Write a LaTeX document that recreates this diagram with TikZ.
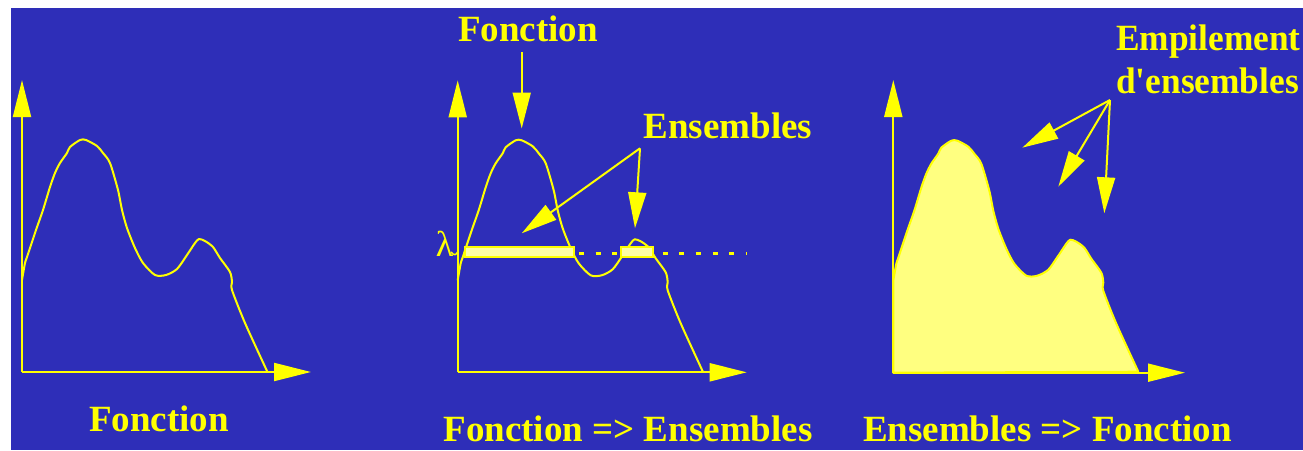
\documentclass[tikz,border=0pt]{standalone}
\usepackage{fontspec}
\setmainfont{Liberation Serif}
\usetikzlibrary{arrows.meta}
\definecolor{bg}{RGB}{46,46,184}
\definecolor{yel}{RGB}{255,255,0}
\definecolor{fillyel}{RGB}{255,255,128}
\definecolor{baryel}{RGB}{255,255,165}
\begin{document}
\begin{tikzpicture}[x=1pt,y=-1pt,
  axisarrow/.style={draw=yel, line width=2pt, -{Triangle[length=37pt,width=18pt]}},
  pointer/.style={draw=yel, line width=2pt, -{Triangle[length=36pt,width=18pt]}},
  fline/.style={draw=yel, line width=2pt, line join=round},
  fpath/.style={insert path={plot[smooth,tension=0.45] coordinates {(0,-92) (3,-109) (5,-115) (14,-142) (21,-162) (28,-185) (33,-199) (38,-209) (45,-219) (48,-225) (58,-232) (64,-232) (75,-226) (81,-219) (88,-209) (96,-182) (100,-162) (105,-144) (113,-124) (121,-109) (133,-97) (144,-97) (155,-103) (165,-117) (173,-129) (177,-133) (183,-131) (191,-125) (198,-114) (208,-100) (210,-90) (210,-82) (223,-49) (245,-1)}}},
  lbl/.style={text=yel, font=\fontsize{37}{40}\selectfont\bfseries, inner sep=0pt},
  setbar/.style={fill=baryel, draw=yel, line width=2pt}
]
\fill[white] (0,0) rectangle (1303,450);
\useasboundingbox (0,0) rectangle (1303,450);
\fill[bg] (11,8) rectangle (1303,450);

% ---------- Panel 1 ----------
\begin{scope}[shift={(22,372)}]
  \coordinate (o1) at (0,0);
  \coordinate (y1) at (0,-292);
  \coordinate (x1) at (289,0);
  \draw[fline, fpath];
  \draw[axisarrow] (o1) -- (y1);
  \draw[axisarrow] (o1) -- (x1);
\end{scope}
\node[lbl, anchor=base] (t1) at (159,431.7) {Fonction};

% ---------- Panel 2 ----------
\begin{scope}[shift={(457.7,372.3)}]
  \coordinate (o2) at (0,0);
  \coordinate (y2) at (0,-292);
  \coordinate (x2) at (289,0);
  \draw[fline, fpath];
\end{scope}
\draw[yel, line width=2.5pt, dash pattern=on 5pt off 11.7pt] (579,253.3) -- (746.7,253.3);
\draw[setbar] (465,246.7) rectangle (574,256.7);
\draw[setbar] (621,246.7) rectangle (653.3,256.7);
\draw[axisarrow] (o2) -- (y2);
\draw[axisarrow] (o2) -- (x2);
\node[text=yel, font=\fontsize{36}{36}\selectfont, inner sep=0pt, anchor=base] (lam) at (444.5,256) {λ};
\draw[yel, line width=1.5pt] (451,252) .. controls (454,256) and (456,255) .. (457.7,252);

\node[lbl, anchor=base] (t2top) at (528,41.7) {Fonction};
\coordinate (fa) at (521.7,52);
\coordinate (peak) at (521.7,128.5);
\draw[pointer] (fa) -- (peak);

\node[lbl, anchor=base] (t2ens) at (728,138.3) {Ensembles};
\coordinate (ens) at (640,148.3);
\coordinate (e1) at (521.7,233.3);
\coordinate (e2) at (635,228.3);
\draw[pointer] (ens) -- (e1);
\draw[pointer] (ens) -- (e2);

\node[lbl, anchor=base] (t2) at (628,441.7) {Fonction => Ensembles};

% ---------- Panel 3 ----------
\begin{scope}[shift={(893.3,372.7)}]
  \coordinate (o3) at (0,0);
  \coordinate (y3) at (0,-292.7);
  \coordinate (x3) at (291.7,0);
  \filldraw[fill=fillyel, draw=yel, line width=2pt, line join=round, fpath] -- (0,0) -- cycle;
  \draw[axisarrow] (o3) -- (y3);
  \draw[axisarrow] (o3) -- (x3);
\end{scope}

\node[lbl, anchor=base west, xscale=0.955] (emp1) at (1116,50.5) {Empilement};
\node[lbl, anchor=base west, xscale=0.955] (emp2) at (1116,93) {d\textquotesingle ensembles};
\coordinate (emp) at (1110,100);
\coordinate (p1) at (1022.3,147.7);
\coordinate (p2) at (1058.3,186.7);
\coordinate (p3) at (1104.3,213.3);
\draw[pointer] (emp) -- (p1);
\draw[pointer] (emp) -- (p2);
\draw[pointer] (emp) -- (p3);

\node[lbl, anchor=base] (t3) at (1047.5,441.7) {Ensembles => Fonction};
\end{tikzpicture}
\end{document}
